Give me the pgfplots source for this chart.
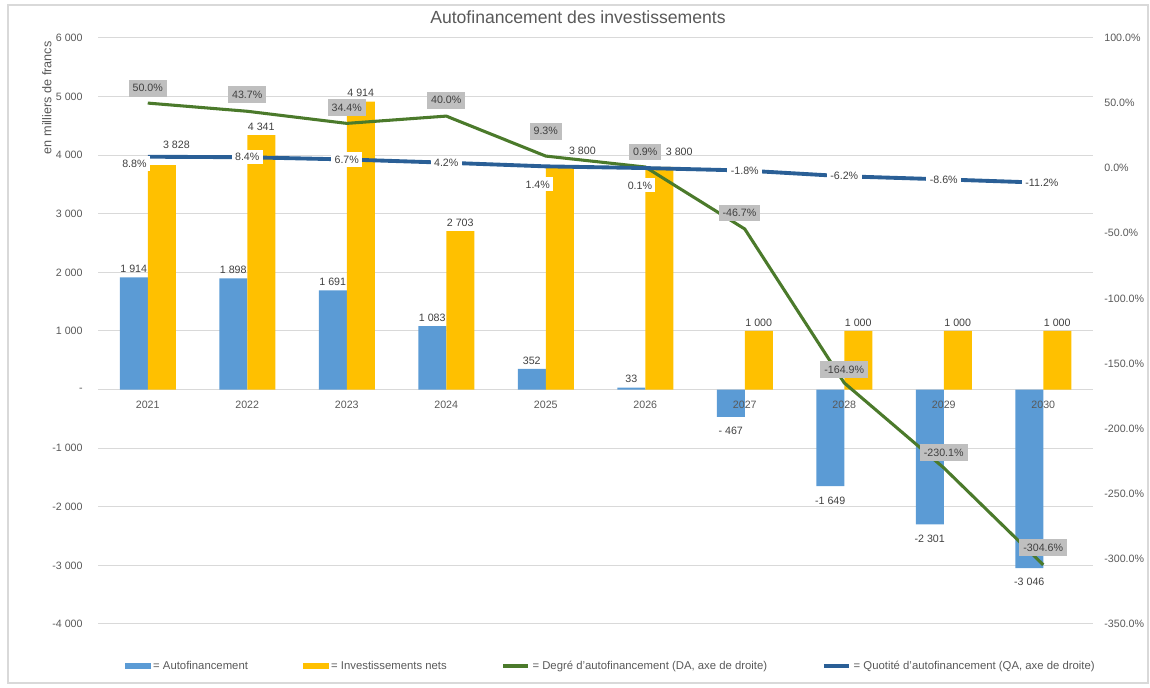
\documentclass[border=0pt]{standalone}
\usepackage{fontspec}
\setmainfont{Liberation Sans}
\usepackage{pgfplots}
\usepackage{pgfplotstable}
\pgfplotsset{compat=1.18}

\definecolor{afblue}{HTML}{5B9BD5}
\definecolor{invyellow}{HTML}{FFC000}
\definecolor{dagreen}{HTML}{4B7A2B}
\definecolor{qablue}{HTML}{2A5F96}
\definecolor{gridgray}{HTML}{D9D9D9}
\definecolor{txtgray}{HTML}{595959}
\definecolor{lblgray}{HTML}{404040}
\definecolor{boxgray}{HTML}{BFBFBF}

\pgfplotsset{
    linelegend/.style={legend image code/.code={\draw[##1] (0pt,0pt) -- (19pt,0pt);}},
}

% bars (left axis, milliers de francs)
\pgfplotstableread[col sep=comma]{
x,af,aflab,afdy,inv,invlab,invdx,invdy
0,1914,1 914,0,3828,3 828,11,9
1,1898,1 898,0,4341,4 341,0,0
2,1691,1 691,0,4914,4 914,0,0
3,1083,1 083,0,2703,2 703,0,0
4,352,352,0,3800,3 800,17,6
5,33,33,0,3800,3 800,15,5
6,-467,- 467,-17,1000,1 000,0,0
7,-1649,-1 649,-17,1000,1 000,0,0
8,-2301,-2 301,-17,1000,1 000,0,0
9,-3046,-3 046,-17,1000,1 000,0,0
}\bartable

% lines (right axis, %)
\pgfplotstableread[col sep=comma]{
x,da,dalab,dadx,dady,qa,qalab,qadx,qady
0,50.0,50.0\%,0,11.25,8.8,8.8\%,-10,-5
1,43.7,43.7\%,0,12.5,8.4,8.4\%,0,0
2,34.4,34.4\%,0,12,6.7,6.7\%,0,0
3,40.0,40.0\%,0,12,4.2,4.2\%,0,0
4,9.3,9.3\%,0,18.75,1.4,1.4\%,-6,-13.5
5,0.9,0.9\%,0,11.25,0.1,0.1\%,-4,-13
6,-46.7,-46.7\%,-4,12,-1.8,-1.8\%,0,0
7,-164.9,-164.9\%,0,10,-6.2,-6.2\%,0,0
8,-230.1,-230.1\%,0,11.25,-8.6,-8.6\%,0,0
9,-304.6,-304.6\%,0,12.75,-11.2,-11.2\%,-1,0
}\linetable

\newcommand{\smallfont}{\fontsize{8}{9.6}\selectfont}

\begin{document}
\begin{tikzpicture}
\begin{axis}[
    scale only axis,
    width=746.25pt, height=439.5pt,
    xmin=-0.5, xmax=9.5,
    ymin=-4000, ymax=6000,
    ybar=0pt, bar width=21pt,
    axis line style={draw=none},
    major tick length=0pt,
    xtick=\empty,
    ytick={-4000,-3000,-2000,-1000,0,1000,2000,3000,4000,5000,6000},
    yticklabels={-4 000,-3 000,-2 000,-1 000,-,1 000,2 000,3 000,4 000,5 000,6 000},
    ymajorgrids,
    grid style={gridgray, line width=0.75pt},
    tick label style={font=\smallfont, text=txtgray},
    yticklabel style={xshift=-8pt},
    ylabel={en milliers de francs},
    ylabel style={at={(axis description cs:-0.0513,0.898)}, anchor=center,
        font=\fontsize{9.5}{11}\selectfont, text=txtgray},
    title={Autofinancement des investissements},
    title style={at={(axis description cs:0.4824,1.022)}, anchor=center,
        font=\fontsize{13.2}{15}\selectfont, text=txtgray},
    clip=false,
    nodes near coords,
    every node near coord/.append style={font=\smallfont, text=lblgray},
    point meta=explicit symbolic,
]
\addplot[fill=afblue, draw=none,
    visualization depends on={\thisrow{afdy} \as \ldy},
    every node near coord/.append style={yshift=\ldy pt}]
    table[x=x, y=af, meta=aflab] {\bartable};
\addplot[fill=invyellow, draw=none,
    visualization depends on={\thisrow{invdx} \as \ldx},
    visualization depends on={\thisrow{invdy} \as \ldy},
    every node near coord/.append style={xshift=\ldx pt, yshift=\ldy pt}]
    table[x=x, y=inv, meta=invlab] {\bartable};
\end{axis}

\begin{axis}[
    scale only axis,
    width=746.25pt, height=439.5pt,
    xmin=-0.5, xmax=9.5,
    ymin=-350, ymax=100,
    axis x line*=bottom,
    axis y line*=right,
    axis line style={draw=none},
    major tick length=0pt,
    xtick={0,1,2,3,4,5,6,7,8,9},
    xticklabels={2021,2022,2023,2024,2025,2026,2027,2028,2029,2030},
    xticklabel style={yshift=171pt},
    ytick={-350,-300,-250,-200,-150,-100,-50,0,50,100},
    yticklabels={-350.0\%,-300.0\%,-250.0\%,-200.0\%,-150.0\%,-100.0\%,-50.0\%,0.0\%,50.0\%,100.0\%},
    tick label style={font=\smallfont, text=txtgray},
    yticklabel style={xshift=5pt},
    clip=false,
    point meta=explicit symbolic,
    legend columns=4,
    legend cell align=left,
    legend style={at={(axis description cs:0.5156,-0.0717)}, anchor=center,
        draw=none, fill=none, font=\fontsize{8.5}{10}\selectfont, text=txtgray,
        /tikz/every even column/.append style={column sep=39pt}},
]
\addlegendimage{legend image code/.code={\fill[afblue] (0pt,-1.9pt) rectangle (19pt,1.9pt);}}
\addlegendentry{= Autofinancement}
\addlegendimage{legend image code/.code={\fill[invyellow] (0pt,-1.9pt) rectangle (19pt,1.9pt);}}
\addlegendentry{= Investissements nets}

\addplot[dagreen, line width=2.3pt, no markers, linelegend,
    nodes near coords,
    visualization depends on={\thisrow{dadx} \as \ldx},
    visualization depends on={\thisrow{dady} \as \ldy},
    every node near coord/.append style={font=\smallfont, text=lblgray,
        fill=boxgray, inner xsep=3pt, inner ysep=3.5pt, anchor=center,
        xshift=\ldx pt, yshift=\ldy pt}]
    table[x=x, y=da, meta=dalab] {\linetable};
\addlegendentry{= Degré d'autofinancement (DA, axe de droite)}

\addplot[qablue, line width=2.9pt, no markers, linelegend,
    nodes near coords,
    visualization depends on={\thisrow{qadx} \as \ldx},
    visualization depends on={\thisrow{qady} \as \ldy},
    every node near coord/.append style={font=\smallfont, text=lblgray,
        fill=white, inner xsep=2.5pt, inner ysep=2.5pt, anchor=center,
        xshift=\ldx pt, yshift=\ldy pt}]
    table[x=x, y=qa, meta=qalab] {\linetable};
\addlegendentry{= Quotité d'autofinancement (QA, axe de droite)}

% outer frame of the chart
\draw[gridgray, line width=0.9pt] (axis description cs:-0.0905,-0.1007) rectangle (axis description cs:1.0553,1.0563);
\path (axis description cs:-0.0985,-0.1092) rectangle (axis description cs:1.0573,1.0648);
\end{axis}
\end{tikzpicture}
\end{document}
